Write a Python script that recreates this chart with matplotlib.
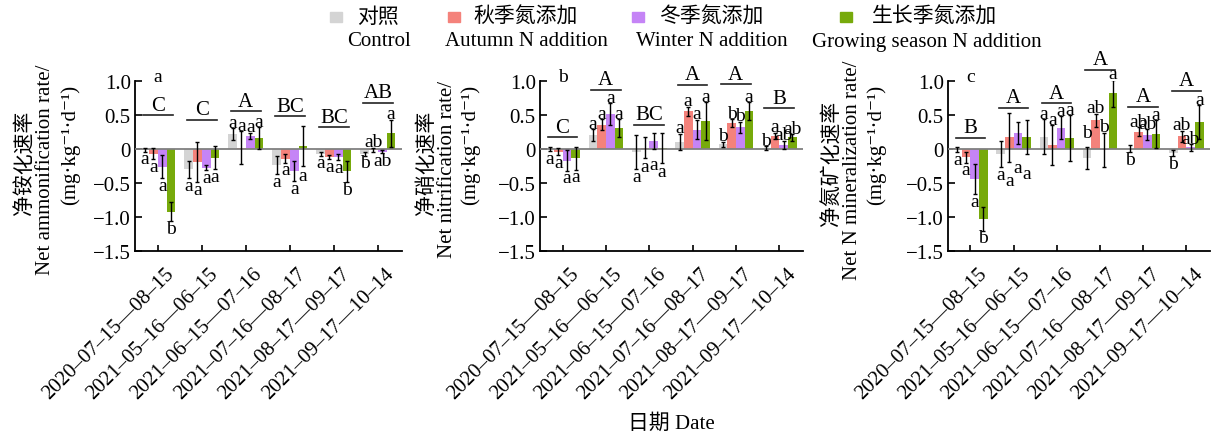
import matplotlib
matplotlib.use("Agg")
import matplotlib.pyplot as plt
import numpy as np
from matplotlib.patches import Rectangle
from matplotlib.transforms import ScaledTranslation

plt.rcParams['font.family'] = ['Liberation Serif', 'DejaVu Serif', 'Noto Sans CJK SC']
plt.rcParams['axes.unicode_minus'] = True

# ---------------- data ----------------
dates = ["2020–07–15—08–15", "2021–05–16—06–15", "2021–06–15—07–16",
         "2021–07–16—08–17", "2021–08–17—09–17", "2021–09–17—10–14"]

treat_cn = ["对照", "秋季氮添加", "冬季氮添加", "生长季氮添加"]
treat_en = ["Control", "Autumn N addition", "Winter N addition", "Growing season N addition"]
colors = ["#D4D4D4", "#F4827B", "#C584F6", "#77AA0B"]

yticks = [-1.5, -1.0, -0.5, 0, 0.5, 1.0]
ytick_labels = ["−1.5", "−1.0", "−0.5", "0", "0.5", "1.0"]

# Panel a: net ammonification
amm_control = [-0.01, -0.30, 0.22, -0.24, -0.07, -0.07]
amm_control_err = [0.03, 0.13, 0.09, 0.13, 0.03, 0.03]
amm_autumn = [-0.07, -0.19, 0.02, -0.14, -0.12, -0.01]
amm_autumn_err = [0.08, 0.30, 0.24, 0.06, 0.03, 0.03]
amm_winter = [-0.26, -0.275, 0.19, -0.32, -0.12, -0.04]
amm_winter_err = [0.17, 0.04, 0.05, 0.15, 0.04, 0.02]
amm_growing = [-0.92, -0.13, 0.16, 0.045, -0.33, 0.23]
amm_growing_err = [0.14, 0.17, 0.16, 0.29, 0.16, 0.20]
amm_letters = [["a", "a", "a", "b"], ["a", "a", "a", "a"], ["a", "a", "a", "a"],
               ["a", "a", "a", "a"], ["a", "a", "a", "b"], ["b", "ab", "ab", "a"]]
amm_letter_side = [["d", "d", "d", "d"], ["d", "d", "d", "d"], ["u", "u", "u", "u"],
                   ["d", "d", "d", "d"], ["d", "d", "d", "d"], ["d", "u", "d", "u"]]
amm_caps = ["C", "C", "A", "BC", "BC", "AB"]
amm_caps_y = [0.495, 0.43, 0.555, 0.48, 0.32, 0.68]

# Panel b: net nitrification
nit_control = [-0.005, 0.21, -0.05, 0.105, 0.07, 0.01]
nit_control_err = [0.03, 0.085, 0.25, 0.12, 0.04, 0.03]
nit_autumn = [-0.04, 0.36, 0.02, 0.555, 0.38, 0.19]
nit_autumn_err = [0.05, 0.08, 0.15, 0.07, 0.06, 0.05]
nit_winter = [-0.17, 0.51, 0.12, 0.285, 0.32, 0.06]
nit_winter_err = [0.15, 0.16, 0.12, 0.145, 0.08, 0.06]
nit_growing = [-0.135, 0.31, 0.01, 0.41, 0.555, 0.17]
nit_growing_err = [0.17, 0.13, 0.22, 0.28, 0.13, 0.05]
nit_letters = [["a", "a", "a", "a"], ["a", "a", "a", "a"], ["a", "a", "a", "a"],
               ["a", "a", "a", "a"], ["b", "b", "b", "a"], ["b", "a", "ab", "ab"]]
nit_letter_side = [["d", "d", "d", "d"], ["u", "u", "u", "u"], ["d", "d", "d", "d"],
                   ["u", "u", "u", "u"], ["u", "u", "u", "u"], ["u", "u", "u", "u"]]
nit_caps = ["C", "A", "BC", "A", "A", "B"]
nit_caps_y = [0.17, 0.87, 0.36, 0.94, 0.95, 0.60]

# Panel c: net N mineralization
min_control = [-0.01, -0.075, 0.18, -0.135, 0.005, -0.06]
min_control_err = [0.04, 0.19, 0.26, 0.16, 0.05, 0.05]
min_autumn = [-0.12, 0.17, 0.06, 0.42, 0.255, 0.19]
min_autumn_err = [0.08, 0.36, 0.29, 0.10, 0.07, 0.08]
min_winter = [-0.44, 0.23, 0.315, -0.02, 0.21, 0.025]
min_winter_err = [0.22, 0.16, 0.165, 0.25, 0.08, 0.05]
min_growing = [-1.03, 0.17, 0.16, 0.82, 0.22, 0.39]
min_growing_err = [0.17, 0.25, 0.34, 0.20, 0.20, 0.25]
min_letters = [["a", "a", "a", "b"], ["a", "a", "a", "a"], ["a", "a", "a", "a"],
               ["b", "ab", "b", "a"], ["b", "ab", "ab", "a"], ["b", "ab", "ab", "a"]]
min_letter_side = [["d", "d", "d", "d"], ["d", "d", "d", "d"], ["u", "u", "u", "u"],
                   ["u", "u", "u", "u"], ["d", "u", "u", "u"], ["d", "u", "u", "u"]]
min_caps = ["B", "A", "A", "A", "A", "A"]
min_caps_y = [0.16, 0.61, 0.67, 1.165, 0.62, 0.86]

panels = [
    dict(tag="a", means=[amm_control, amm_autumn, amm_winter, amm_growing],
         errs=[amm_control_err, amm_autumn_err, amm_winter_err, amm_growing_err],
         letters=amm_letters, sides=amm_letter_side, caps=amm_caps, caps_y=amm_caps_y,
         ylab=["净铵化速率", "Net ammonification rate/", "(mg·kg⁻¹·d⁻¹)"]),
    dict(tag="b", means=[nit_control, nit_autumn, nit_winter, nit_growing],
         errs=[nit_control_err, nit_autumn_err, nit_winter_err, nit_growing_err],
         letters=nit_letters, sides=nit_letter_side, caps=nit_caps, caps_y=nit_caps_y,
         ylab=["净硝化速率", "Net nitrification rate/", "(mg·kg⁻¹·d⁻¹)"]),
    dict(tag="c", means=[min_control, min_autumn, min_winter, min_growing],
         errs=[min_control_err, min_autumn_err, min_winter_err, min_growing_err],
         letters=min_letters, sides=min_letter_side, caps=min_caps, caps_y=min_caps_y,
         ylab=["净氮矿化速率", "Net N mineralization rate/", "(mg·kg⁻¹·d⁻¹)"]),
]

# ---------------- layout ----------------
W, H = 1215, 439
fig = plt.figure(figsize=(W / 100, H / 100), dpi=100)

ax_left_px = [135, 540, 948]
ax_width_px = [267, 263, 262]
ax_top_px, ax_bot_px = 82, 252
ylab_x_px = [(26, 46, 70), (428, 447, 470), (833, 852, 876)]

FS = 15
LFS = 14
width = 0.2
offsets = [-0.3, -0.1, 0.1, 0.3]
x = np.arange(len(dates))

for p, pan in enumerate(panels):
    ax = fig.add_axes([ax_left_px[p] / W, 1 - ax_bot_px / H,
                       ax_width_px[p] / W, (ax_bot_px - ax_top_px) / H])
    for k in range(4):
        ax.bar(x + offsets[k], pan["means"][k], width, color=colors[k], zorder=2,
               yerr=pan["errs"][k],
               error_kw=dict(ecolor="black", elinewidth=1.0, capsize=1.6,
                             capthick=1.0, zorder=4))
    ax.axhline(0, color="#808080", lw=1.3, zorder=3)
    ax.set_xlim(-0.52, 5.55)
    ax.set_ylim(-1.5, 1.0)
    for s in ["top", "right"]:
        ax.spines[s].set_visible(False)
    for s in ["left", "bottom"]:
        ax.spines[s].set_linewidth(1.3)
    ax.set_yticks(yticks)
    ax.set_yticklabels(ytick_labels, fontsize=FS)
    ax.set_xticks(x)
    ax.set_xticklabels(dates, fontsize=FS)
    ax.tick_params(axis="y", direction="in", length=5, width=1.2, pad=3)
    ax.tick_params(axis="x", direction="in", length=4, width=1.2, pad=9)
    for lbl in ax.get_xticklabels():
        lbl.set_rotation(45)
        lbl.set_ha("right")
        lbl.set_va("top")
        lbl.set_rotation_mode("anchor")
        lbl.set_transform(lbl.get_transform() +
                          ScaledTranslation(7 / 100, 0, fig.dpi_scale_trans))

    # significance letters
    for i in range(len(dates)):
        for k in range(4):
            m = pan["means"][k][i]
            e = pan["errs"][k][i]
            if pan["sides"][i][k] == "u":
                ax.text(x[i] + offsets[k], max(m, 0) + e + 0.02, pan["letters"][i][k],
                        ha="center", va="baseline", fontsize=LFS, clip_on=False, zorder=5)
            else:
                ax.text(x[i] + offsets[k], min(m, 0) - e + 0.02, pan["letters"][i][k],
                        ha="center", va="top", fontsize=LFS, clip_on=False, zorder=5)
        cy = pan["caps_y"][i]
        ax.plot([x[i] - 0.34, x[i] + 0.34], [cy, cy], color="#222222", lw=1.2,
                clip_on=False, zorder=5)
        ax.text(x[i], cy + 0.01, pan["caps"][i], ha="center", va="bottom",
                fontsize=FS, clip_on=False)
    ax.text(x[0], 1.06, pan["tag"], ha="center", va="center", fontsize=LFS,
            clip_on=False)

    # y labels (three lines)
    yc = [163, 170, 145]
    for j in range(3):
        fig.text(ylab_x_px[p][j] / W, 1 - yc[j] / H, pan["ylab"][j], rotation=90,
                 ha="center", va="center", fontsize=FS)

# legend drawn manually
sq_left = [330, 448, 632, 840]
cn_center = [378, 526, 711, 935]
en_center = [379, 526, 712, 927]
for k in range(4):
    fig.add_artist(Rectangle((sq_left[k] / W, 1 - 23 / H), 12 / W, 10 / H,
                             transform=fig.transFigure, color=colors[k]))
    fig.text(cn_center[k] / W, 1 - 18 / H, treat_cn[k], ha="center", va="center",
             fontsize=FS)
    fig.text(en_center[k] / W, 1 - 42 / H, treat_en[k], ha="center", va="center",
             fontsize=FS)

fig.text(671 / W, 1 - 424 / H, "日期 Date", ha="center", va="center", fontsize=FS)

fig.savefig("out.png", dpi=100)
